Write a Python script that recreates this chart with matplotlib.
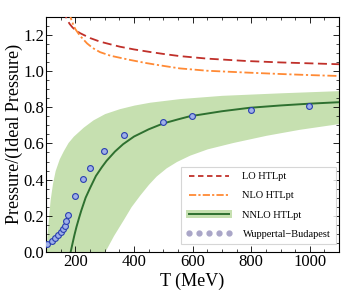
import numpy as np
import matplotlib
matplotlib.use('Agg')
import matplotlib.pyplot as plt
from matplotlib.lines import Line2D
from matplotlib.patches import Patch
from matplotlib.ticker import MultipleLocator, FormatStrFormatter

plt.rcParams['font.family'] = ['Liberation Serif', 'DejaVu Serif']

# LO HTLpt (dashed red)
t_lo = [160, 170, 180, 190, 200, 216, 250, 284, 320, 352, 400, 454, 500, 556, 650, 783, 900, 1000, 1100]
p_lo = [1.34, 1.29, 1.262, 1.242, 1.227, 1.21, 1.183, 1.163, 1.148, 1.135, 1.12, 1.106, 1.095, 1.083, 1.069, 1.056, 1.048, 1.043, 1.038]

# NLO HTLpt (dash-dot orange)
t_nlo = [178, 185, 193, 200, 216, 240, 260, 284, 320, 386, 440, 488, 556, 650, 783, 900, 1000, 1100]
p_nlo = [1.33, 1.29, 1.255, 1.232, 1.195, 1.153, 1.127, 1.105, 1.085, 1.062, 1.045, 1.032, 1.015, 1.002, 0.992, 0.984, 0.978, 0.973]

# NNLO HTLpt central line
t_nnlo = [184, 190, 197, 204, 212, 220, 235, 250, 270, 290, 306, 335, 363, 400, 450, 499,
          550, 590, 700, 794, 900, 1000, 1100]
p_nnlo = [0.0, 0.045, 0.095, 0.14, 0.185, 0.228, 0.30, 0.353, 0.42, 0.468, 0.503, 0.555, 0.596,
          0.638, 0.678, 0.71, 0.733, 0.75, 0.778, 0.797, 0.81, 0.82, 0.828]

# NNLO band edges
t_up = [100, 103, 107, 114, 122, 131, 145, 159, 175, 193, 227, 260, 300, 350, 400, 454,
        556, 700, 900, 1100]
p_up = [0.0, 0.08, 0.17, 0.29, 0.38, 0.45, 0.515, 0.56, 0.605, 0.64, 0.69, 0.73, 0.765,
        0.792, 0.812, 0.828, 0.848, 0.866, 0.88, 0.892]
t_lowband = [300, 315, 330, 363, 390, 420, 450, 476, 510, 545, 590, 650, 737, 851, 964, 1100]
p_lowband = [0.0, 0.045, 0.09, 0.177, 0.25, 0.315, 0.375, 0.42, 0.465, 0.5, 0.535, 0.57,
             0.605, 0.645, 0.678, 0.71]

# Wuppertal-Budapest lattice data
t_wb = [104, 119, 131, 142, 150, 157, 165, 168, 176, 200, 227, 251, 298, 365, 499, 599, 798, 998]
p_wb = [0.043, 0.059, 0.076, 0.094, 0.109, 0.126, 0.145, 0.171, 0.206, 0.308, 0.404, 0.466,
        0.560, 0.649, 0.717, 0.752, 0.787, 0.809]
e_wb = [0.01] * len(t_wb)

fig = plt.figure(figsize=(3.6, 2.96), dpi=100)
ax = fig.add_axes([0.128, 0.149, 0.814, 0.794])

band_col = '#c6e0b0'
t_all = np.array(sorted(set(t_up) | set(t_lowband)))
up_i = np.interp(t_all, t_up, p_up)
lo_i = np.interp(t_all, t_lowband, p_lowband, left=0.0)
ax.fill_between(t_all, lo_i, up_i, color=band_col, lw=0, zorder=1)

ax.plot(t_lo, p_lo, color='#c0302a', ls=(0, (5, 2.5)), lw=1.3, zorder=3)
ax.plot(t_nlo, p_nlo, color='#ff8a35', ls=(0, (5, 1.5, 1.2, 1.5)), lw=1.3, zorder=3)
ax.plot(t_nnlo, p_nnlo, color='#2e7030', lw=1.4, zorder=3)

ax.errorbar(t_wb, p_wb, yerr=e_wb, fmt='o', ms=4.2, mfc='#9fb0e8', mec='#2a3fb0',
            mew=0.8, ecolor='#2a3fb0', elinewidth=0.7, capsize=0, zorder=4)

ax.set_xlim(100, 1100)
ax.set_ylim(0, 1.3)
ax.xaxis.set_major_locator(MultipleLocator(200))
ax.xaxis.set_minor_locator(MultipleLocator(50))
ax.yaxis.set_major_locator(MultipleLocator(0.2))
ax.yaxis.set_minor_locator(MultipleLocator(0.05))
ax.yaxis.set_major_formatter(FormatStrFormatter('%.1f'))
ax.tick_params(which='both', direction='in', top=True, right=True, labelsize=12, pad=1.5)
ax.tick_params(which='major', length=4, width=0.6)
ax.tick_params(which='minor', length=2, width=0.5)
for s in ax.spines.values():
    s.set_linewidth(0.8)

ax.set_xlabel('T (MeV)', fontsize=13, labelpad=2)
ax.set_ylabel('Pressure/(Ideal Pressure)', fontsize=13, labelpad=0)

handles = [
    Line2D([], [], color='#c0302a', ls=(0, (3, 2)), lw=1.3),
    Line2D([], [], color='#ff8a35', ls=(0, (4, 1.2, 1.2, 1.2)), lw=1.3),
    (Patch(facecolor=band_col, edgecolor='none'), Line2D([], [], color='#2e7030', lw=1.4)),
    Line2D([], [], ls='none', marker='o', ms=3.5, mfc='#aaa6c8', mec='#aaa6c8'),
]
labels = ['LO HTLpt', 'NLO HTLpt', 'NNLO HTLpt', 'Wuppertal\u2212Budapest']
leg = ax.legend(handles, labels, loc='lower right', bbox_to_anchor=(0.995, 0.025),
                borderaxespad=0.2,
                fontsize=7.5, frameon=True, fancybox=False, edgecolor='#cccccc',
                handlelength=4.4, handletextpad=1.0, labelspacing=0.95,
                borderpad=0.5, numpoints=5, markerfirst=True)
leg.get_frame().set_linewidth(0.8)

fig.savefig('out.png', dpi=100)
